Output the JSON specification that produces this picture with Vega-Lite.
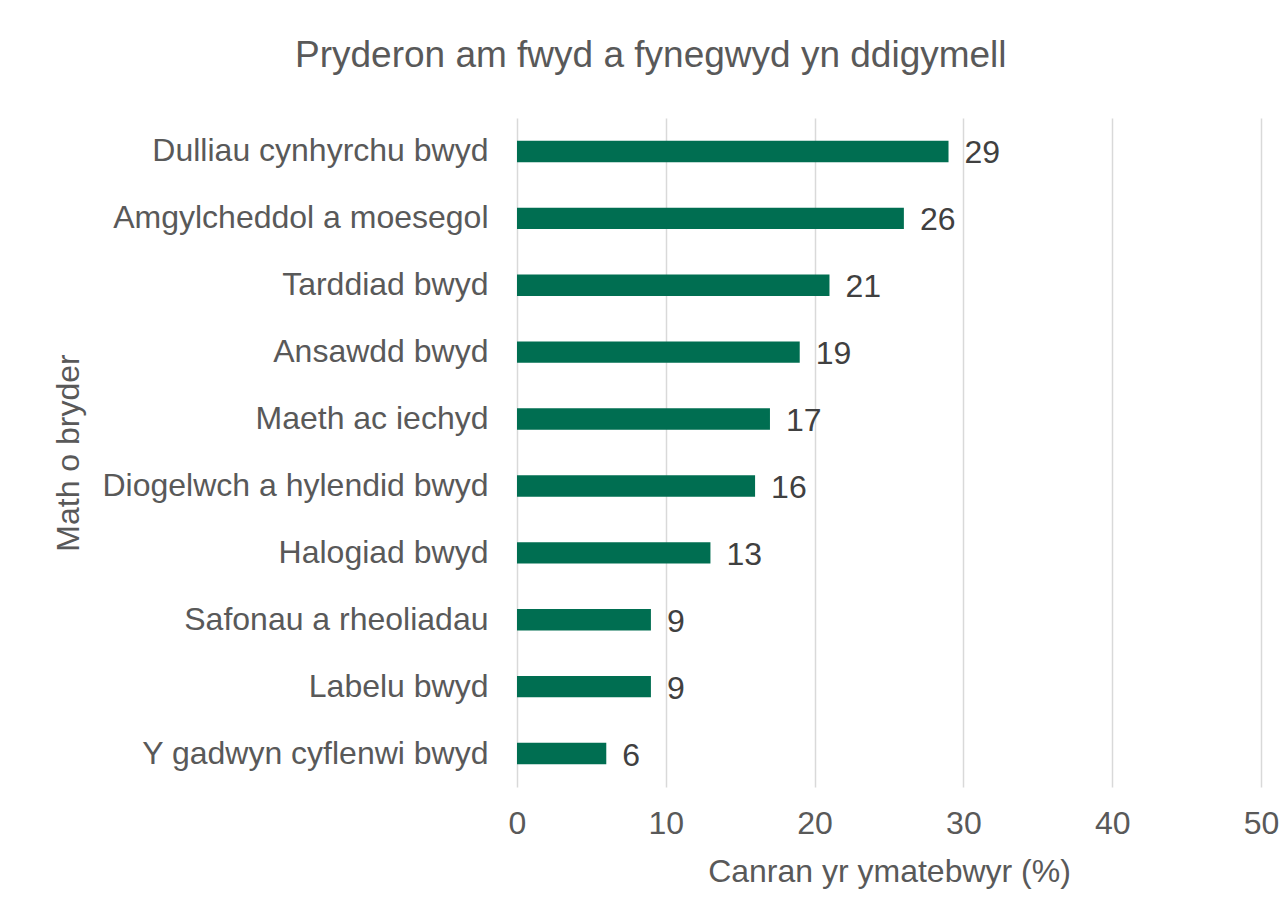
{
  "$schema": "https://vega.github.io/schema/vega-lite/v6.json",
  "autosize": {"type": "none"},
  "width": 744,
  "height": 669,
  "padding": {"left": 517, "top": 118, "right": 23, "bottom": 124},
  "background": "white",
  "title": {
    "text": "Pryderon am fwyd a fynegwyd yn ddigymell",
    "font": "Liberation Sans",
    "fontSize": 37,
    "fontWeight": "normal",
    "color": "#595959",
    "anchor": "start",
    "frame": "group",
    "dx": -222,
    "offset": 43
  },
  "data": {
    "values": [
      {"category": "Dulliau cynhyrchu bwyd", "value": 29},
      {"category": "Amgylcheddol a moesegol", "value": 26},
      {"category": "Tarddiad bwyd", "value": 21},
      {"category": "Ansawdd bwyd", "value": 19},
      {"category": "Maeth ac iechyd", "value": 17},
      {"category": "Diogelwch a hylendid bwyd", "value": 16},
      {"category": "Halogiad bwyd", "value": 13},
      {"category": "Safonau a rheoliadau", "value": 9},
      {"category": "Labelu bwyd", "value": 9},
      {"category": "Y gadwyn cyflenwi bwyd", "value": 6}
    ]
  },
  "encoding": {
    "y": {
      "field": "category",
      "type": "nominal",
      "sort": null,
      "scale": {"paddingInner": 0.68, "paddingOuter": 0.34},
      "axis": {
        "title": "Math o bryder",
        "titleFont": "Liberation Sans",
        "titleFontSize": 32,
        "titleFontWeight": "normal",
        "titleColor": "#595959",
        "titleX": -449,
        "titleBaseline": "middle",
        "labelFont": "Liberation Sans",
        "labelFontSize": 32,
        "labelColor": "#595959",
        "labelPadding": 29,
        "labelLimit": 600,
        "ticks": false,
        "domain": false,
        "grid": false
      }
    },
    "x": {
      "field": "value",
      "type": "quantitative",
      "scale": {"domain": [0, 50], "nice": false},
      "axis": {
        "title": "Canran yr ymatebwyr (%)",
        "titleFont": "Liberation Sans",
        "titleFontSize": 32,
        "titleFontWeight": "normal",
        "titleColor": "#595959",
        "titlePadding": 17,
        "labelFont": "Liberation Sans",
        "labelFontSize": 32,
        "labelColor": "#595959",
        "labelPadding": 21,
        "labelFlush": false,
        "values": [0, 10, 20, 30, 40, 50],
        "ticks": false,
        "domain": false,
        "grid": true,
        "gridColor": "#d9d9d9",
        "gridWidth": 1.5
      }
    }
  },
  "layer": [
    {"mark": {"type": "bar", "color": "#006E51"}},
    {
      "mark": {
        "type": "text",
        "align": "left",
        "baseline": "middle",
        "dx": 16,
        "dy": 2,
        "font": "Liberation Sans",
        "fontSize": 32,
        "color": "#404040"
      },
      "encoding": {"text": {"field": "value", "type": "quantitative"}}
    }
  ],
  "config": {"view": {"stroke": null}}
}
